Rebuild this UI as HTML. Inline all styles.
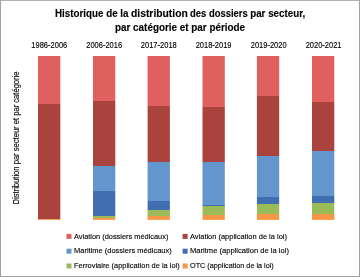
<!DOCTYPE html>
<html><head><meta charset="utf-8">
<style>
html,body{margin:0;padding:0;background:#fff;}
body{width:360px;height:277px;position:relative;overflow:hidden;font-family:"Liberation Sans",sans-serif;color:#000;}
.frame{position:absolute;left:0;top:0;width:358px;height:275px;border:1px solid #a0a0a0;border-top-color:#b4b4b4;}
.chart{position:absolute;left:0;top:0;}
.t{position:absolute;white-space:nowrap;line-height:1;filter:grayscale(1);-webkit-text-stroke:0.12px #000;}
.sq{position:absolute;left:0;top:0;width:4.6px;height:4.6px;}
</style></head><body>
<div class="frame"></div>
<svg class="chart" width="360" height="277" viewBox="0 0 360 277"><defs><linearGradient id="g0" gradientUnits="userSpaceOnUse" x1="0" y1="56" x2="0" y2="219.9"><stop offset="0.0000" stop-color="#e05f5f"/><stop offset="0.2910" stop-color="#e05f5f"/><stop offset="0.2910" stop-color="#aa423e"/><stop offset="0.9951" stop-color="#aa423e"/><stop offset="0.9951" stop-color="#9bbb59"/><stop offset="0.9963" stop-color="#9bbb59"/><stop offset="0.9963" stop-color="#f79646"/><stop offset="1.0000" stop-color="#f79646"/></linearGradient><linearGradient id="g1" gradientUnits="userSpaceOnUse" x1="0" y1="56" x2="0" y2="219.9"><stop offset="0.0000" stop-color="#e05f5f"/><stop offset="0.2746" stop-color="#e05f5f"/><stop offset="0.2746" stop-color="#aa423e"/><stop offset="0.6718" stop-color="#aa423e"/><stop offset="0.6718" stop-color="#6296cd"/><stop offset="0.8237" stop-color="#6296cd"/><stop offset="0.8237" stop-color="#406eb0"/><stop offset="0.9756" stop-color="#406eb0"/><stop offset="0.9756" stop-color="#9bbb59"/><stop offset="0.9857" stop-color="#9bbb59"/><stop offset="0.9857" stop-color="#f79646"/><stop offset="1.0000" stop-color="#f79646"/></linearGradient><linearGradient id="g2" gradientUnits="userSpaceOnUse" x1="0" y1="56" x2="0" y2="219.9"><stop offset="0.0000" stop-color="#e05f5f"/><stop offset="0.3038" stop-color="#e05f5f"/><stop offset="0.3038" stop-color="#aa423e"/><stop offset="0.6455" stop-color="#aa423e"/><stop offset="0.6455" stop-color="#6296cd"/><stop offset="0.8853" stop-color="#6296cd"/><stop offset="0.8853" stop-color="#406eb0"/><stop offset="0.9396" stop-color="#406eb0"/><stop offset="0.9396" stop-color="#9bbb59"/><stop offset="0.9762" stop-color="#9bbb59"/><stop offset="0.9762" stop-color="#f79646"/><stop offset="1.0000" stop-color="#f79646"/></linearGradient><linearGradient id="g3" gradientUnits="userSpaceOnUse" x1="0" y1="56" x2="0" y2="219.9"><stop offset="0.0000" stop-color="#e05f5f"/><stop offset="0.3112" stop-color="#e05f5f"/><stop offset="0.3112" stop-color="#aa423e"/><stop offset="0.6467" stop-color="#aa423e"/><stop offset="0.6467" stop-color="#6296cd"/><stop offset="0.9073" stop-color="#6296cd"/><stop offset="0.9073" stop-color="#406eb0"/><stop offset="0.9140" stop-color="#406eb0"/><stop offset="0.9140" stop-color="#9bbb59"/><stop offset="0.9701" stop-color="#9bbb59"/><stop offset="0.9701" stop-color="#f79646"/><stop offset="1.0000" stop-color="#f79646"/></linearGradient><linearGradient id="g4" gradientUnits="userSpaceOnUse" x1="0" y1="56" x2="0" y2="219.9"><stop offset="0.0000" stop-color="#e05f5f"/><stop offset="0.2416" stop-color="#e05f5f"/><stop offset="0.2416" stop-color="#aa423e"/><stop offset="0.6101" stop-color="#aa423e"/><stop offset="0.6101" stop-color="#6296cd"/><stop offset="0.8591" stop-color="#6296cd"/><stop offset="0.8591" stop-color="#406eb0"/><stop offset="0.9042" stop-color="#406eb0"/><stop offset="0.9042" stop-color="#9bbb59"/><stop offset="0.9622" stop-color="#9bbb59"/><stop offset="0.9622" stop-color="#f79646"/><stop offset="1.0000" stop-color="#f79646"/></linearGradient><linearGradient id="g5" gradientUnits="userSpaceOnUse" x1="0" y1="56" x2="0" y2="219.9"><stop offset="0.0000" stop-color="#e05f5f"/><stop offset="0.2794" stop-color="#e05f5f"/><stop offset="0.2794" stop-color="#aa423e"/><stop offset="0.5790" stop-color="#aa423e"/><stop offset="0.5790" stop-color="#6296cd"/><stop offset="0.8572" stop-color="#6296cd"/><stop offset="0.8572" stop-color="#406eb0"/><stop offset="0.8963" stop-color="#406eb0"/><stop offset="0.8963" stop-color="#9bbb59"/><stop offset="0.9634" stop-color="#9bbb59"/><stop offset="0.9634" stop-color="#f79646"/><stop offset="1.0000" stop-color="#f79646"/></linearGradient></defs><rect x="38" y="56" width="22.3" height="163.90" fill="url(#g0)"/><rect x="93" y="56" width="22.3" height="163.90" fill="url(#g1)"/><rect x="147.6" y="56" width="22.3" height="163.90" fill="url(#g2)"/><rect x="202.5" y="56" width="22.3" height="163.90" fill="url(#g3)"/><rect x="256.9" y="56" width="22.3" height="163.90" fill="url(#g4)"/><rect x="312" y="56" width="22.3" height="163.90" fill="url(#g5)"/></svg>
<div class="t" style="font-size:9.8px;top:8.70px;transform-origin:0 8.30px;transform:scale(1,1.12);left:55.00px;font-weight:bold;">Historique de la</div>
<div class="t" style="font-size:9.8px;top:8.70px;transform-origin:0 8.30px;transform:scale(1.054,1.12);left:131.40px;font-weight:bold;">distribution</div>
<div class="t" style="font-size:9.8px;top:8.70px;transform-origin:0 8.30px;transform:scale(0.963,1.12);left:190.20px;font-weight:bold;">des dossiers</div>
<div class="t" style="font-size:9.8px;top:8.70px;transform-origin:0 8.30px;transform:scale(1,1.12);left:250.20px;font-weight:bold;">par secteur,</div>
<div class="t" style="font-size:9.9px;top:22.62px;transform-origin:0 8.38px;transform:scale(1,1.12);left:115.00px;font-weight:bold;">par catégorie et par période</div>
<div class="t" style="font-size:7.5px;top:41.75px;transform-origin:0 6.35px;transform:scale(1,1.1);left:9.30px;width:80px;text-align:center;">1986-2006</div>
<div class="t" style="font-size:7.5px;top:41.75px;transform-origin:0 6.35px;transform:scale(1,1.1);left:64.20px;width:80px;text-align:center;">2006-2016</div>
<div class="t" style="font-size:7.5px;top:41.75px;transform-origin:0 6.35px;transform:scale(1,1.1);left:118.80px;width:80px;text-align:center;">2017-2018</div>
<div class="t" style="font-size:7.5px;top:41.75px;transform-origin:0 6.35px;transform:scale(1,1.1);left:173.60px;width:80px;text-align:center;">2018-2019</div>
<div class="t" style="font-size:7.5px;top:41.75px;transform-origin:0 6.35px;transform:scale(1,1.1);left:228.70px;width:80px;text-align:center;">2019-2020</div>
<div class="t" style="font-size:7.5px;top:41.75px;transform-origin:0 6.35px;transform:scale(1,1.1);left:283.60px;width:80px;text-align:center;">2020-2021</div>
<div class="t" style="font-size:7.6px;left:18.7px;top:197.77px;transform-origin:0 6.43px;transform:rotate(-90deg) scaleY(1.1);">Distribution par secteur et par catégorie</div>
<div class="sq" style="transform:translate(66.5px,233.9px);background:#e05f5f"></div>
<div class="t" style="font-size:7.5px;top:232.55px;transform-origin:0 6.35px;transform:scale(0.986,1.08);left:73.50px;">Aviation (dossiers médicaux)</div>
<div class="sq" style="transform:translate(182.6px,233.9px);background:#aa423e"></div>
<div class="t" style="font-size:7.5px;top:232.55px;transform-origin:0 6.35px;transform:scale(0.995,1.08);left:190.00px;">Aviation (application de la loi)</div>
<div class="sq" style="transform:translate(66.5px,248.7px);background:#6296cd"></div>
<div class="t" style="font-size:7.5px;top:247.45px;transform-origin:0 6.35px;transform:scale(0.998,1.08);left:73.50px;">Maritime (dossiers médicaux)</div>
<div class="sq" style="transform:translate(182.6px,248.7px);background:#406eb0"></div>
<div class="t" style="font-size:7.5px;top:247.45px;transform-origin:0 6.35px;transform:scale(1.01,1.08);left:190.00px;">Maritme (application de la loi)</div>
<div class="sq" style="transform:translate(66.5px,263.5px);background:#9bbb59"></div>
<div class="t" style="font-size:7.5px;top:262.15px;transform-origin:0 6.35px;transform:scale(0.99,1.08);left:73.50px;">Ferroviaire (application de la loi)</div>
<div class="sq" style="transform:translate(182.6px,263.5px);background:#f79646"></div>
<div class="t" style="font-size:7.5px;top:262.15px;transform-origin:0 6.35px;transform:scale(0.966,1.08);left:190.00px;">OTC (application de la loi)</div>
</body></html>
